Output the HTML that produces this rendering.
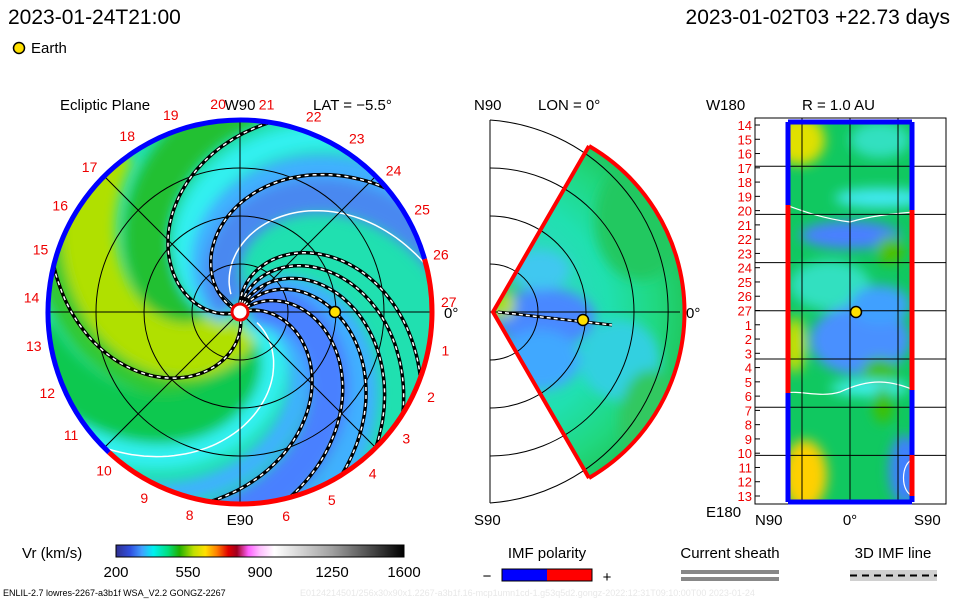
<!DOCTYPE html>
<html><head><meta charset="utf-8">
<style>
body{margin:0;background:#fff;width:960px;height:600px;overflow:hidden;font-family:"Liberation Sans",sans-serif}
svg{display:block}
text{font-family:"Liberation Sans",sans-serif}
</style></head>
<body>
<svg id="s" width="960" height="600" viewBox="0 0 960 600">
<defs>
<filter id="bl" x="-20%" y="-20%" width="140%" height="140%"><feGaussianBlur stdDeviation="6"/></filter>
<filter id="bl2" x="-30%" y="-30%" width="160%" height="160%"><feGaussianBlur stdDeviation="6"/></filter>
<clipPath id="cc"><circle cx="240" cy="312" r="192"/></clipPath>
<clipPath id="wc"><path d="M493,312 L589,146 A192,192 0 0 1 589,478 Z"/></clipPath>
<clipPath id="rc"><rect x="786" y="122" width="128" height="380"/></clipPath>
<linearGradient id="cb" x1="0" x2="1">
<stop offset="0" stop-color="#303090"/><stop offset="0.05" stop-color="#3050e0"/><stop offset="0.09" stop-color="#40a0ff"/>
<stop offset="0.13" stop-color="#00f0f0"/><stop offset="0.18" stop-color="#00e080"/><stop offset="0.22" stop-color="#20b000"/>
<stop offset="0.27" stop-color="#c0e000"/><stop offset="0.31" stop-color="#ffe000"/><stop offset="0.35" stop-color="#ff8000"/>
<stop offset="0.39" stop-color="#e00000"/><stop offset="0.42" stop-color="#a00020"/><stop offset="0.46" stop-color="#ff60ff"/>
<stop offset="0.5" stop-color="#ffc0ff"/><stop offset="0.55" stop-color="#ffffff"/><stop offset="0.75" stop-color="#a0a0a0"/>
<stop offset="1" stop-color="#000000"/></linearGradient>
<radialGradient id="wg" cx="493" cy="312" r="192" gradientUnits="userSpaceOnUse">
<stop offset="0" stop-color="#c0e000"/><stop offset="0.1" stop-color="#30c860"/><stop offset="0.3" stop-color="#30d8c0"/>
<stop offset="0.6" stop-color="#20e0b0"/><stop offset="0.85" stop-color="#20d880"/><stop offset="1" stop-color="#20c860"/></radialGradient>
</defs>

<text x="8" y="24" font-size="21" fill="#000">2023-01-24T21:00</text>
<text x="950" y="24" font-size="21" fill="#000" text-anchor="end">2023-01-02T03 +22.73 days</text>
<circle cx="19" cy="48" r="5.5" fill="#ffe000" stroke="#000" stroke-width="1.5"/>
<text x="31" y="53" font-size="15">Earth</text>

<!-- LEFT PANEL -->
<g id="left">
<text x="60" y="110" font-size="15">Ecliptic Plane</text>
<text x="240" y="110" font-size="15" text-anchor="middle">W90</text>
<text x="313" y="110" font-size="15">LAT = −5.5°</text>
<g clip-path="url(#cc)" id="lfill">
<circle cx="240" cy="312" r="192" fill="#20e0b0"/>
<g id="bands" filter="url(#bl)"></g>
<g id="wlines"></g>
<g id="grid" stroke="#000" stroke-width="1" fill="none"></g>
<g id="imf"></g>
</g>
<g id="rim" fill="none" stroke-width="5"></g>
<circle cx="240" cy="312" r="8" fill="#fff" stroke="#e00" stroke-width="3"/>
<circle cx="335" cy="312" r="5.5" fill="#ffe000" stroke="#000" stroke-width="1.5"/>
<g id="daylbl" fill="#e00" font-size="14" text-anchor="middle"></g>
<text x="240" y="525" font-size="15" text-anchor="middle">E90</text>
<text x="444" y="318" font-size="15">0°</text>
</g>

<!-- MIDDLE PANEL -->
<g>
<text x="474" y="110" font-size="15">N90</text>
<text x="538" y="110" font-size="15">LON = 0°</text>
<g clip-path="url(#wc)">
<path d="M493,312 L589,146 A192,192 0 0 1 589,478 Z" fill="url(#wg)"/>
<g filter="url(#bl2)">
<ellipse cx="545" cy="318" rx="50" ry="30" fill="#4a88ff"/>
<ellipse cx="540" cy="360" rx="40" ry="30" fill="#40a8ff"/>
<ellipse cx="540" cy="270" rx="30" ry="20" fill="#40c8f0"/>
<ellipse cx="620" cy="360" rx="40" ry="40" fill="#30d0e0"/>
<ellipse cx="640" cy="220" rx="45" ry="60" fill="#20c860"/>
<ellipse cx="650" cy="420" rx="30" ry="50" fill="#30c860"/>
<ellipse cx="505" cy="305" rx="10" ry="14" fill="#b0e000"/>
</g>
</g>
<g stroke="#000" fill="none" stroke-width="1">
<line x1="490" y1="120" x2="490" y2="503"/>
<path d="M490,264 A48,48 0 0 1 490,360"/>
<path d="M490,216 A96,96 0 0 1 490,408"/>
<path d="M490,168 A144,144 0 0 1 490,456"/>
<path d="M490,120 A192,192 0 0 1 490,503"/>
<line x1="490" y1="312" x2="680" y2="312"/>
</g>
<path d="M589,146 L493,312 L589,478" fill="none" stroke="#f00" stroke-width="4"/>
<path d="M589,146 A192,192 0 0 1 589,478" fill="none" stroke="#f00" stroke-width="4"/>
<path d="M498,312 L585,322 L612,325" fill="none" stroke="#000" stroke-width="3"/>
<path d="M498,312 L585,322 L612,325" fill="none" stroke="#fff" stroke-width="1.5" stroke-dasharray="4 3"/>
<circle cx="583" cy="320" r="5.5" fill="#ffe000" stroke="#000" stroke-width="1.5"/>
<text x="686" y="318" font-size="15">0°</text>
<text x="474" y="525" font-size="15">S90</text>
</g>

<!-- RIGHT PANEL -->
<g>
<text x="706" y="110" font-size="15">W180</text>
<text x="802" y="110" font-size="15">R = 1.0 AU</text>
<rect x="755" y="118" width="191" height="386" fill="#fff" stroke="#000" stroke-width="1"/>
<g clip-path="url(#rc)">
<rect x="786" y="122" width="128" height="380" fill="#10c860"/>
<g filter="url(#bl2)">
<ellipse cx="800" cy="140" rx="25" ry="25" fill="#e0e000"/>
<ellipse cx="880" cy="140" rx="30" ry="18" fill="#30e0c0"/>
<ellipse cx="880" cy="198" rx="45" ry="10" fill="#40e8f0"/>
<ellipse cx="850" cy="235" rx="50" ry="14" fill="#4a80ff"/>
<ellipse cx="830" cy="285" rx="40" ry="25" fill="#30e0c0"/>
<ellipse cx="860" cy="340" rx="50" ry="35" fill="#4a90ff"/>
<ellipse cx="880" cy="305" rx="30" ry="20" fill="#40a0ff"/>
<ellipse cx="795" cy="345" rx="10" ry="28" fill="#d0e000"/>
<ellipse cx="880" cy="372" rx="18" ry="14" fill="#40c000"/>
<ellipse cx="870" cy="388" rx="40" ry="8" fill="#40f0f0"/>
<ellipse cx="883" cy="405" rx="10" ry="18" fill="#40c000"/>
<ellipse cx="805" cy="475" rx="22" ry="35" fill="#ffd000"/>
<ellipse cx="905" cy="470" rx="16" ry="35" fill="#4080ff"/>
<ellipse cx="890" cy="250" rx="14" ry="14" fill="#50c000"/>
</g>
<path d="M786,205 C800,210 820,218 850,222 C870,216 890,214 914,212" fill="none" stroke="#fff" stroke-width="1.2"/>
<path d="M786,393 C800,390 820,398 840,392 C870,378 890,380 914,390" fill="none" stroke="#fff" stroke-width="1.2"/>
<path d="M914,459 C900,462 900,494 914,496" fill="none" stroke="#fff" stroke-width="1.2"/>
</g>
<g id="rgrid" stroke="#000" stroke-width="1"></g>
<path d="M788,122 L788,205 M912,122 L912,210" stroke="#00f" stroke-width="5"/>
<path d="M788,122 L912,122 M788,502 L912,502" stroke="#00f" stroke-width="5"/>
<path d="M788,205 L788,393" stroke="#f00" stroke-width="5"/>
<path d="M912,210 L912,390" stroke="#f00" stroke-width="5"/>
<path d="M788,393 L788,502 M912,390 L912,455 M912,496 L912,502" stroke="#00f" stroke-width="5"/>
<path d="M912,455 L912,496" stroke="#f00" stroke-width="5"/>
<circle cx="856" cy="312" r="5.5" fill="#ffe000" stroke="#000" stroke-width="1.5"/>
<g id="rlbl" fill="#e00" font-size="13" text-anchor="end"></g>
<text x="706" y="517" font-size="15">E180</text>
<text x="755" y="525" font-size="15">N90</text>
<text x="850" y="525" font-size="15" text-anchor="middle">0°</text>
<text x="914" y="525" font-size="15">S90</text>
</g>

<!-- BOTTOM LEGENDS -->
<g>
<text x="22" y="558" font-size="15">Vr (km/s)</text>
<rect x="116" y="545" width="288" height="12" fill="url(#cb)" stroke="#000" stroke-width="1"/>
<g id="cbt" font-size="15" text-anchor="middle"></g>
</g>
<g>
<text x="547" y="558" font-size="15" text-anchor="middle">IMF polarity</text>
<rect x="502" y="569" width="45" height="12" fill="#00f"/>
<rect x="547" y="569" width="45" height="12" fill="#f00"/>
<rect x="502" y="569" width="90" height="12" fill="none" stroke="#000"/>
<text x="487" y="581" font-size="15" text-anchor="middle">−</text>
<text x="607" y="582" font-size="15" text-anchor="middle">+</text>
</g>
<g>
<text x="730" y="558" font-size="15" text-anchor="middle">Current sheath</text>
<rect x="681" y="570" width="98" height="4" fill="#888"/>
<rect x="681" y="577" width="98" height="4" fill="#888"/>
</g>
<g>
<text x="893" y="558" font-size="15" text-anchor="middle">3D IMF line</text>
<rect x="850" y="570" width="87" height="11" fill="#d0d0d0"/>
<line x1="850" y1="575.5" x2="937" y2="575.5" stroke="#000" stroke-width="2" stroke-dasharray="7 5"/>
</g>
<text x="3" y="596" font-size="9" fill="#000">ENLIL-2.7 lowres-2267-a3b1f WSA_V2.2 GONGZ-2267</text>
<text x="300" y="596" font-size="9" fill="#e8e8e8">E0124214501/256x30x90x1.2267-a3b1f.16-mcp1umn1cd-1.g53q5d2.gongz-2022:12:31T09:10:00T00   2023-01-24</text>
</svg>
<script>
const days=["14","15","16","17","18","19","20","21","22","23","24","25","26","27","1","2","3","4","5","6","7","8","9","10","11","12","13"];
const cbTicks=[200,550,900,1250,1600];
const imfEndAngles=[-81,-40,20,32,45,58,75,99,194];
const bandAngles=[200,262,162,220,135,294,320,335,110,60,85];
const bandColors=["#30c830","#20c030","#10c850","#b0e000","#30f0f0","#30f0f0","#40b0ff","#4a88f0","#40b0ff","#40b0ff","#4a80ff"];
const bandWidths=[50,45,50,55,25,25,40,35,20,30,40];
const sheetAngles=[-14,135];

const NS="http://www.w3.org/2000/svg";
const cx=240,cy=312,R=192,SW=115;
function mk(t,a,p){const e=document.createElementNS(NS,t);for(const k in a)e.setAttribute(k,a[k]);p.appendChild(e);return e;}
function spiral(end,r0){let d="";for(let r=r0;r<=R+20;r+=3){const th=(end-(1-r/R)*SW)*Math.PI/180;d+=(d?"L":"M")+(cx+r*Math.cos(th)).toFixed(1)+","+(cy+r*Math.sin(th)).toFixed(1);}return d;}
const bands=document.getElementById("bands");
bandAngles.forEach((a,i)=>{const p=mk("path",{d:spiral(a,10),fill:"none",stroke:bandColors[i],"stroke-width":bandWidths[i]},bands);

});
const wl=document.getElementById("wlines");
sheetAngles.forEach(a=>{const p=mk("path",{d:spiral(a,20),fill:"none",stroke:"#fff","stroke-width":1.5},wl);

});
const g=document.getElementById("grid");
[48,96,144].forEach(r=>mk("circle",{cx,cy,r},g));
for(let a=0;a<180;a+=45){const t=a*Math.PI/180;mk("line",{x1:cx-R*Math.cos(t),y1:cy-R*Math.sin(t),x2:cx+R*Math.cos(t),y2:cy+R*Math.sin(t)},g);}
const imf=document.getElementById("imf");
imfEndAngles.forEach(a=>{const d=spiral(a,8);
const b=mk("path",{d,fill:"none",stroke:"#000","stroke-width":3.5},imf);


mk("path",{d,fill:"none",stroke:"#fff","stroke-width":1.5,"stroke-dasharray":"4 4"},imf);});
const rim=document.getElementById("rim");
function arc(a0,a1,col){const t0=a0*Math.PI/180,t1=a1*Math.PI/180;const large=(a1-a0)>180?1:0;
const p=mk("path",{d:`M${cx+R*Math.cos(t0)},${cy+R*Math.sin(t0)} A${R},${R} 0 ${large} 1 ${cx+R*Math.cos(t1)},${cy+R*Math.sin(t1)}`,stroke:col},rim);

}
arc(133,344,"#00f");arc(-16,133,"#f00");
const dl=document.getElementById("daylbl");
days.forEach((d,i)=>{const ang=(184+i*13.33)*Math.PI/180;const rr=R+17;
if(d==="7")return;
const t=mk("text",{x:(cx+rr*Math.cos(ang)).toFixed(1),y:(cy+rr*Math.sin(ang)+5).toFixed(1)},dl);t.textContent=d;

});
const rg=document.getElementById("rgrid");
for(let i=1;i<8;i++)mk("line",{x1:755,x2:946,y1:118+i*48.2,y2:118+i*48.2},rg);
[802,850,898].forEach(x=>mk("line",{x1:x,x2:x,y1:118,y2:504},rg));
const rl=document.getElementById("rlbl");
days.forEach((d,i)=>{const y=125+i*(371/26);
const t=mk("text",{x:752,y:(y+5).toFixed(1)},rl);t.textContent=d;


mk("line",{x1:755,x2:760,y1:y,y2:y,stroke:"#000"},rl);});
const cbt=document.getElementById("cbt");
cbTicks.forEach(v=>{const x=116+(v-200)/1400*288;const t=mk("text",{x,y:577},cbt);t.textContent=v;

});
</script>
</body></html>
